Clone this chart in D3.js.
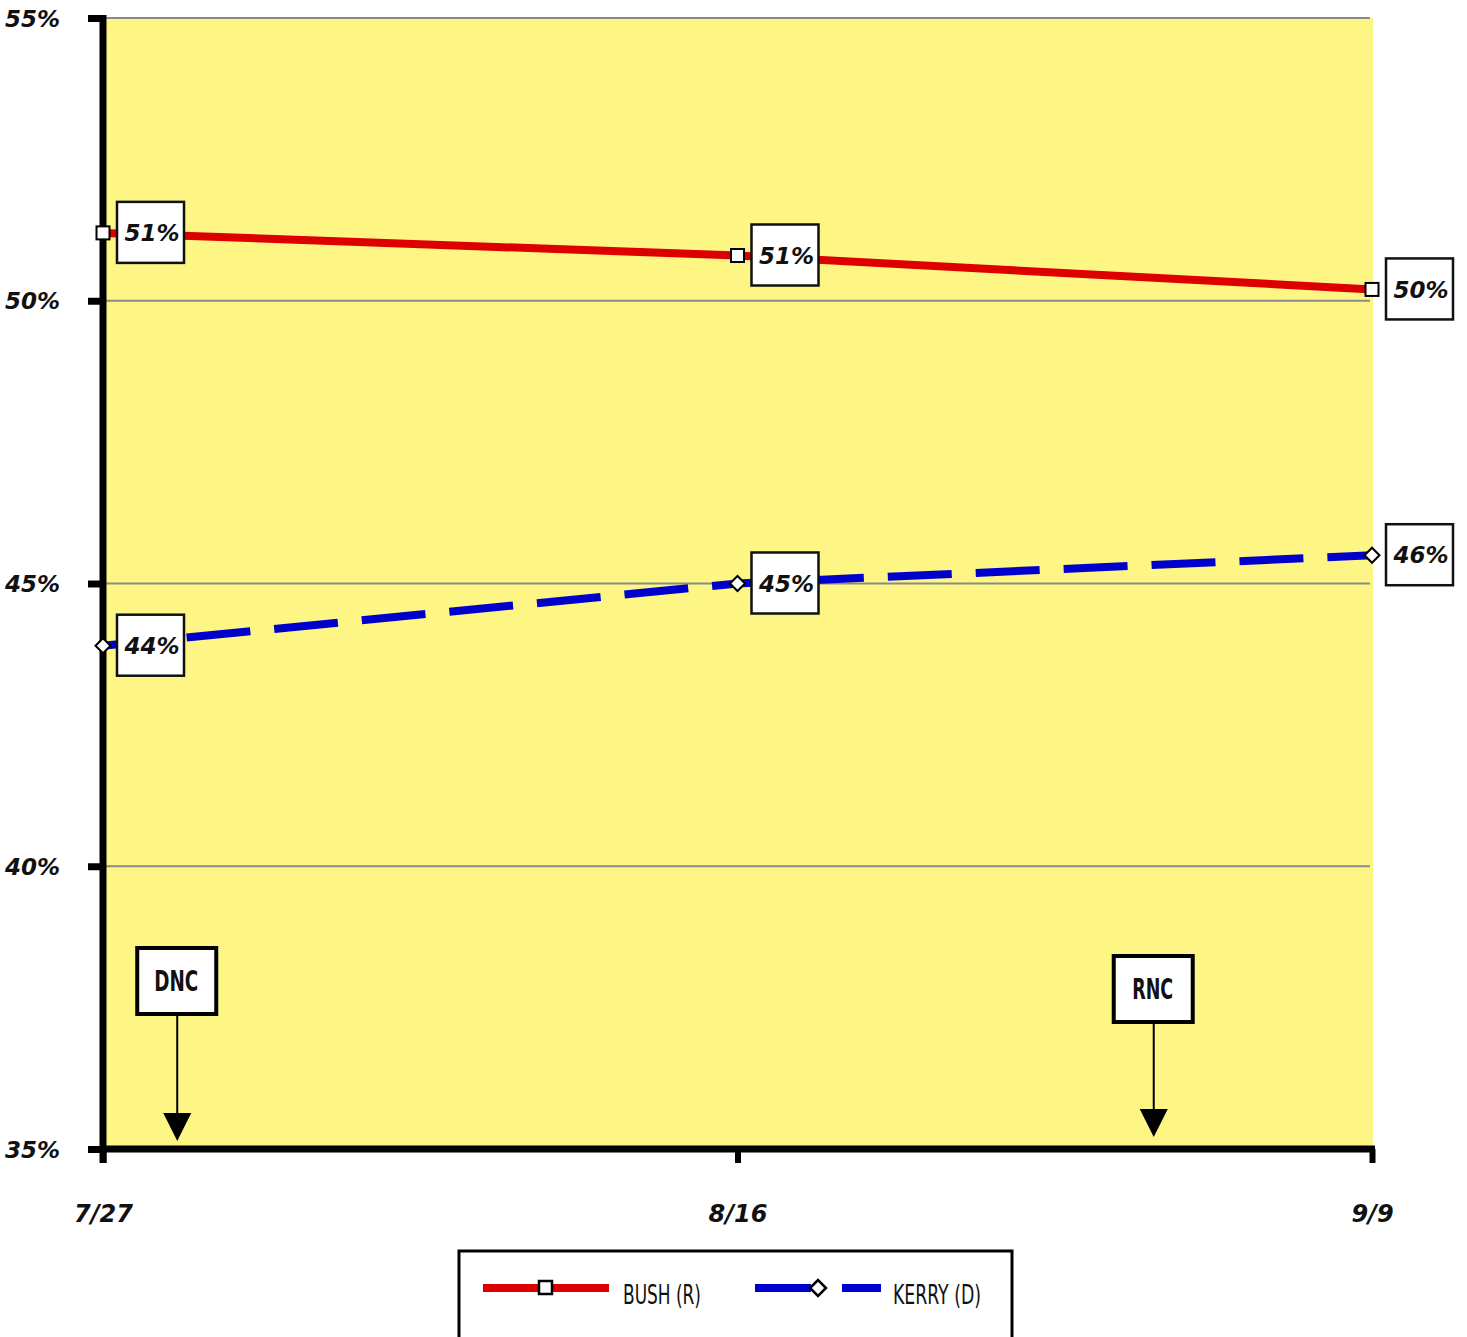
<!DOCTYPE html>
<html>
<head>
<meta charset="utf-8">
<script src="https://cdn.jsdelivr.net/npm/d3@7"></script>
<style>
  body { margin: 0; background: #fff; }
  svg { display: block; }
  .num { font-family: "DejaVu Sans", Verdana, sans-serif; font-weight: bold; font-style: italic; font-size: 23px; fill: #111; }
  .narrow { font-family: "DejaVu Sans Condensed", "DejaVu Sans", sans-serif; font-stretch: condensed; fill: #111; }
</style>
</head>
<body>
<svg id="chart" width="1467" height="1337"></svg>
<script>
// data
var dates = ['7/27', '8/16', '9/9'];
var bush = [51.2, 50.8, 50.2];
var kerry = [43.9, 45.0, 45.5];
var bushLabels = ['51%', '51%', '50%'];
var kerryLabels = ['44%', '45%', '46%'];
var yTicks = [35, 40, 45, 50, 55];
// conventions, position given in date-index units
var events = [
    { name: 'DNC', at: 0.117, boxTop: 948, tipY: 1141, w: 44 },
    { name: 'RNC', at: 1.656, boxTop: 956, tipY: 1137, w: 41 }
];

(function() {
    var svg = d3.select('#chart');
    var m = { left: 103, right: 1372, top: 18, bottom: 1149 };

    var x = d3.scaleLinear().domain([0, dates.length - 1]).range([m.left, m.right]);
    var y = d3.scaleLinear().domain([35, 55]).range([m.bottom, m.top]);

    // plot background
    svg.append('rect')
        .attr('x', m.left).attr('y', m.top)
        .attr('width', m.right - m.left + 1).attr('height', m.bottom - m.top)
        .attr('fill', '#fdf685');

    // grid
    svg.append('g').selectAll('line')
        .data(yTicks.filter(function(d) { return d > 35; }))
        .enter().append('line')
        .attr('x1', m.left).attr('x2', m.right - 2)
        .attr('y1', function(d) { return y(d); })
        .attr('y2', function(d) { return y(d); })
        .attr('stroke', '#8a8a8a').attr('stroke-width', 2);

    // convention arrows
    var ev = svg.append('g').selectAll('g').data(events).enter().append('g');
    ev.append('line')
        .attr('x1', function(d) { return x(d.at); })
        .attr('x2', function(d) { return x(d.at); })
        .attr('y1', function(d) { return d.boxTop + 66; })
        .attr('y2', function(d) { return d.tipY - 20; })
        .attr('stroke', '#000').attr('stroke-width', 2);
    ev.append('path')
        .attr('d', function(d) {
            var cx = x(d.at);
            return 'M' + (cx - 14) + ',' + (d.tipY - 28) + 'L' + (cx + 14) + ',' + (d.tipY - 28) + 'L' + cx + ',' + d.tipY + 'Z';
        })
        .attr('fill', '#000');
    ev.append('rect')
        .attr('x', function(d) { return x(d.at) - 40; })
        .attr('y', function(d) { return d.boxTop; })
        .attr('width', 79).attr('height', 66)
        .attr('fill', '#fff').attr('stroke', '#000').attr('stroke-width', 4);
    ev.append('text')
        .attr('class', 'narrow')
        .attr('x', function(d) { return x(d.at) - 1 - d.w / 2; })
        .attr('y', function(d) { return d.boxTop + 43; })
        .attr('font-size', 28).attr('font-weight', 'bold')
        .attr('textLength', function(d) { return d.w; })
        .attr('lengthAdjust', 'spacingAndGlyphs')
        .text(function(d) { return d.name; });

    // series lines
    var line = d3.line()
        .x(function(d, i) { return x(i); })
        .y(function(d) { return y(d); });

    svg.append('path').datum(bush)
        .attr('d', line).attr('fill', 'none')
        .attr('stroke', '#dd0000').attr('stroke-width', 8);

    svg.append('path').datum(kerry)
        .attr('d', line).attr('fill', 'none')
        .attr('stroke', '#0000cc').attr('stroke-width', 8)
        .attr('stroke-dasharray', '64,24')
        .attr('stroke-dashoffset', 4);

    // axes
    var yAxis = svg.append('g')
        .attr('transform', 'translate(' + m.left + ',0)')
        .call(d3.axisLeft(y).tickValues(yTicks).tickSize(15).tickFormat(function(d) { return d + '%'; }));
    yAxis.select('.domain').remove();
    yAxis.selectAll('.tick line').attr('stroke', '#000').attr('stroke-width', 7);
    yAxis.selectAll('.tick text').attr('class', 'num').attr('x', -43).attr('dy', '0.35em');
    yAxis.append('line')
        .attr('x1', 0).attr('x2', 0)
        .attr('y1', m.top - 3).attr('y2', m.bottom + 14)
        .attr('stroke', '#000').attr('stroke-width', 7);

    var xAxis = svg.append('g')
        .attr('transform', 'translate(0,' + m.bottom + ')')
        .call(d3.axisBottom(x).tickValues(d3.range(dates.length)).tickSize(14).tickFormat(function(i) { return dates[i]; }));
    xAxis.select('.domain').remove();
    xAxis.selectAll('.tick line').attr('stroke', '#000').attr('stroke-width', 6);
    xAxis.selectAll('.tick text').attr('class', 'num').style('font-size', '24px').attr('y', 65).attr('dy', '0.35em');
    xAxis.append('line')
        .attr('x1', m.left - 3).attr('x2', m.right + 3)
        .attr('y1', 0).attr('y2', 0)
        .attr('stroke', '#000').attr('stroke-width', 7);

    // markers
    svg.append('g').selectAll('rect').data(bush).enter().append('rect')
        .attr('x', function(d, i) { return x(i) - 6.5; })
        .attr('y', function(d) { return y(d) - 6.5; })
        .attr('width', 13).attr('height', 13)
        .attr('fill', '#fff').attr('stroke', '#000').attr('stroke-width', 2);

    svg.append('g').selectAll('path').data(kerry).enter().append('path')
        .attr('d', function(d, i) {
            var cx = x(i), cy = y(d);
            return 'M' + (cx - 7.5) + ',' + cy + 'L' + cx + ',' + (cy - 7.5) + 'L' + (cx + 7.5) + ',' + cy + 'L' + cx + ',' + (cy + 7.5) + 'Z';
        })
        .attr('fill', '#fff').attr('stroke', '#000').attr('stroke-width', 2);

    // data labels
    function labels(values, texts) {
        var g = svg.append('g').selectAll('g').data(values).enter().append('g')
            .attr('transform', function(d, i) { return 'translate(' + (x(i) + 14) + ',' + y(d) + ')'; });
        g.append('rect')
            .attr('x', 0).attr('y', -31)
            .attr('width', 67).attr('height', 61)
            .attr('fill', '#fff').attr('stroke', '#111').attr('stroke-width', 2.5);
        g.append('text')
            .attr('class', 'num')
            .attr('x', 35).attr('y', 0).attr('dy', '0.35em')
            .attr('text-anchor', 'middle')
            .text(function(d, i) { return texts[i]; });
    }
    labels(bush, bushLabels);
    labels(kerry, kerryLabels);

    // legend
    var lg = svg.append('g');
    lg.append('rect')
        .attr('x', 459).attr('y', 1251)
        .attr('width', 553).attr('height', 110)
        .attr('fill', '#fff').attr('stroke', '#000').attr('stroke-width', 3);
    lg.append('line')
        .attr('x1', 483).attr('x2', 609).attr('y1', 1288).attr('y2', 1288)
        .attr('stroke', '#dd0000').attr('stroke-width', 8);
    lg.append('rect')
        .attr('x', 539).attr('y', 1281).attr('width', 13).attr('height', 13)
        .attr('fill', '#fff').attr('stroke', '#000').attr('stroke-width', 2.5);
    lg.append('text').attr('class', 'narrow')
        .attr('x', 623).attr('y', 1304).attr('font-size', 27)
        .attr('textLength', 78).attr('lengthAdjust', 'spacingAndGlyphs')
        .text('BUSH (R)');
    lg.append('line')
        .attr('x1', 755).attr('x2', 811).attr('y1', 1288).attr('y2', 1288)
        .attr('stroke', '#0000cc').attr('stroke-width', 8);
    lg.append('line')
        .attr('x1', 842).attr('x2', 881).attr('y1', 1288).attr('y2', 1288)
        .attr('stroke', '#0000cc').attr('stroke-width', 8);
    lg.append('path')
        .attr('d', 'M810,1288L818,1280L826,1288L818,1296Z')
        .attr('fill', '#fff').attr('stroke', '#000').attr('stroke-width', 2.5);
    lg.append('text').attr('class', 'narrow')
        .attr('x', 893).attr('y', 1304).attr('font-size', 27)
        .attr('textLength', 88).attr('lengthAdjust', 'spacingAndGlyphs')
        .text('KERRY (D)');
})();
</script>
</body>
</html>
